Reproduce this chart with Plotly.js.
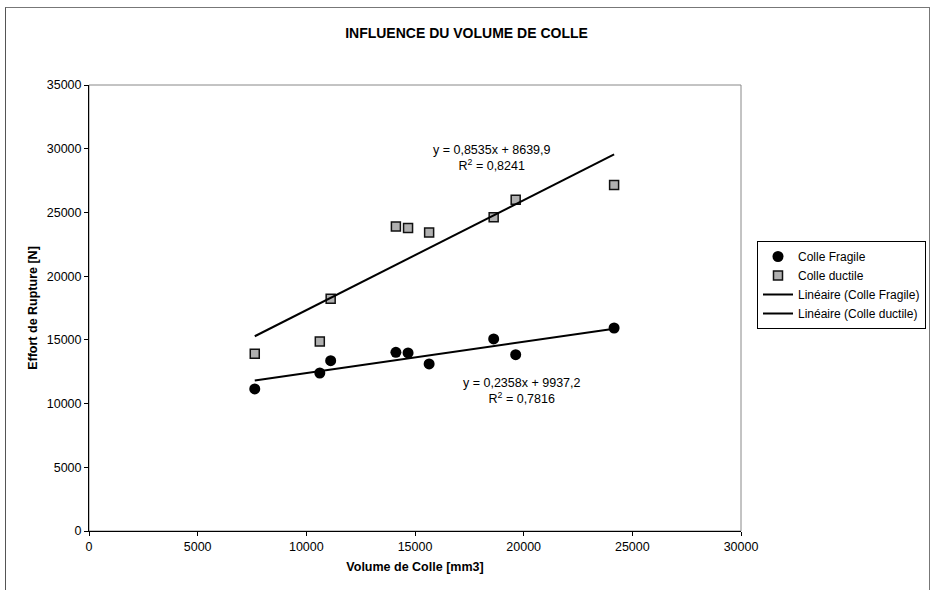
<!DOCTYPE html>
<html><head><meta charset="utf-8">
<script src="https://cdn.plot.ly/plotly-3.0.1.min.js"></script>
<style>
html,body{margin:0;padding:0;background:#fff;overflow:hidden;width:933px;height:590px;}
#chart{position:absolute;left:0;top:0;width:933px;height:590px;}
#frame{position:absolute;left:5px;top:7px;width:925px;height:583px;border-left:1px solid #555;border-top:1px solid #777;border-right:1px solid #777;pointer-events:none;box-sizing:border-box;}
</style></head>
<body>
<div id="chart"></div>
<div id="frame"></div>
<script>
const volume = [7627, 10620, 11120, 14121, 14680, 15650, 18620, 19633, 24161];
const colleFragile = [11150, 12400, 13370, 14020, 13970, 13110, 15070, 13840, 15930];
const colleDuctile = [13910, 14880, 18230, 23890, 23770, 23420, 24630, 25990, 27160];
const seriesNames = ["Colle Fragile", "Colle ductile", "Linéaire (Colle Fragile)", "Linéaire (Colle ductile)"];
const eqFragile = "y = 0,2358x + 9937,2<br>R<sup>2</sup> = 0,7816";
const eqDuctile = "y = 0,8535x + 8639,9<br>R<sup>2</sup> = 0,8241";
const xTicks = [0, 5000, 10000, 15000, 20000, 25000, 30000];
const yTicks = [0, 5000, 10000, 15000, 20000, 25000, 30000, 35000];

function linfit(xs, ys) {
  const n = xs.length;
  const mx = xs.reduce((a,b)=>a+b,0)/n, my = ys.reduce((a,b)=>a+b,0)/n;
  let sxy = 0, sxx = 0;
  for (let i=0;i<n;i++){ sxy += (xs[i]-mx)*(ys[i]-my); sxx += (xs[i]-mx)**2; }
  const a = sxy/sxx, b = my - a*mx;
  const x0 = Math.min(...xs), x1 = Math.max(...xs);
  return {x:[x0,x1], y:[a*x0+b, a*x1+b]};
}
const fitF = linfit(volume, colleFragile);
const fitD = linfit(volume, colleDuctile);

const font = {family: "Liberation Sans, Arial, sans-serif", color: "#000"};
const f = s => Object.assign({size: s}, font);
const traces = [
  {x: volume, y: colleFragile, name: seriesNames[0], type: "scatter", mode: "markers",
   marker: {symbol: "circle", size: 11, color: "#000"}},
  {x: volume, y: colleDuctile, name: seriesNames[1], type: "scatter", mode: "markers",
   marker: {symbol: "square", size: 9, color: "#b0b0b0", line: {color: "#111", width: 1.5}}},
  {x: fitF.x, y: fitF.y, name: seriesNames[2], type: "scatter", mode: "lines",
   line: {color: "#000", width: 2}},
  {x: fitD.x, y: fitD.y, name: seriesNames[3], type: "scatter", mode: "lines",
   line: {color: "#000", width: 2}}
];

const L = 89.4, R = 740.8, T = 85, B = 531.5, W = 933, H = 590;
const pw = R - L, ph = B - T;
const px = v => (v - L) / pw;
const py = v => (B - v) / ph;

const layout = {
  width: W, height: H,
  margin: {l: L, r: W - R, t: T, b: H - B, pad: 0, autoexpand: false},
  paper_bgcolor: "#fff", plot_bgcolor: "#fff",
  font: f(12),
  title: {text: "<b>INFLUENCE DU VOLUME DE COLLE</b>", font: f(14),
          x: 0.5, xref: "container", y: 1 - 33/H, yref: "container", yanchor: "middle"},
  xaxis: {range: [0, 30000], tickvals: xTicks, ticktext: xTicks.map(String),
          showgrid: false, zeroline: false, showline: true, linecolor: "#000", linewidth: 1,
          ticks: "outside", ticklen: 4, tickcolor: "#000",
          tickfont: f(12.5),
          title: {text: "<b>Volume de Colle [mm3]</b>", font: f(12.5), standoff: 9}},
  yaxis: {range: [0, 35000], tickvals: yTicks, ticktext: yTicks.map(String),
          showgrid: false, zeroline: false, showline: true, linecolor: "#000", linewidth: 1,
          ticks: "outside", ticklen: 4, tickcolor: "#000",
          tickfont: f(12.5),
          title: {text: "<b>Effort de Rupture [N]</b>", font: f(12.5), standoff: 6}},
  showlegend: true,
  legend: {x: 757 / W, y: 1 - 241 / H, xref: "container", yref: "container",
           xanchor: "left", yanchor: "top",
           bgcolor: "#fff", bordercolor: "#000", borderwidth: 1,
           font: f(12), tracegroupgap: 0, itemwidth: 30},
  shapes: [
    {type: "rect", xref: "paper", yref: "paper", x0: 0, x1: 1, y0: 0, y1: 1,
     line: {color: "#888", width: 1}, layer: "below"}
  ],
  annotations: [
    {xref: "paper", yref: "paper", x: px(492), y: py(158), xanchor: "center", yanchor: "middle",
     text: eqDuctile, showarrow: false, font: f(12.5), align: "center"},
    {xref: "paper", yref: "paper", x: px(522.5), y: py(391), xanchor: "center", yanchor: "middle",
     text: eqFragile, showarrow: false, font: f(12.5), align: "center"}
  ]
};
Plotly.newPlot("chart", traces, layout, {displayModeBar: false, staticPlot: true});
</script>
</body></html>
